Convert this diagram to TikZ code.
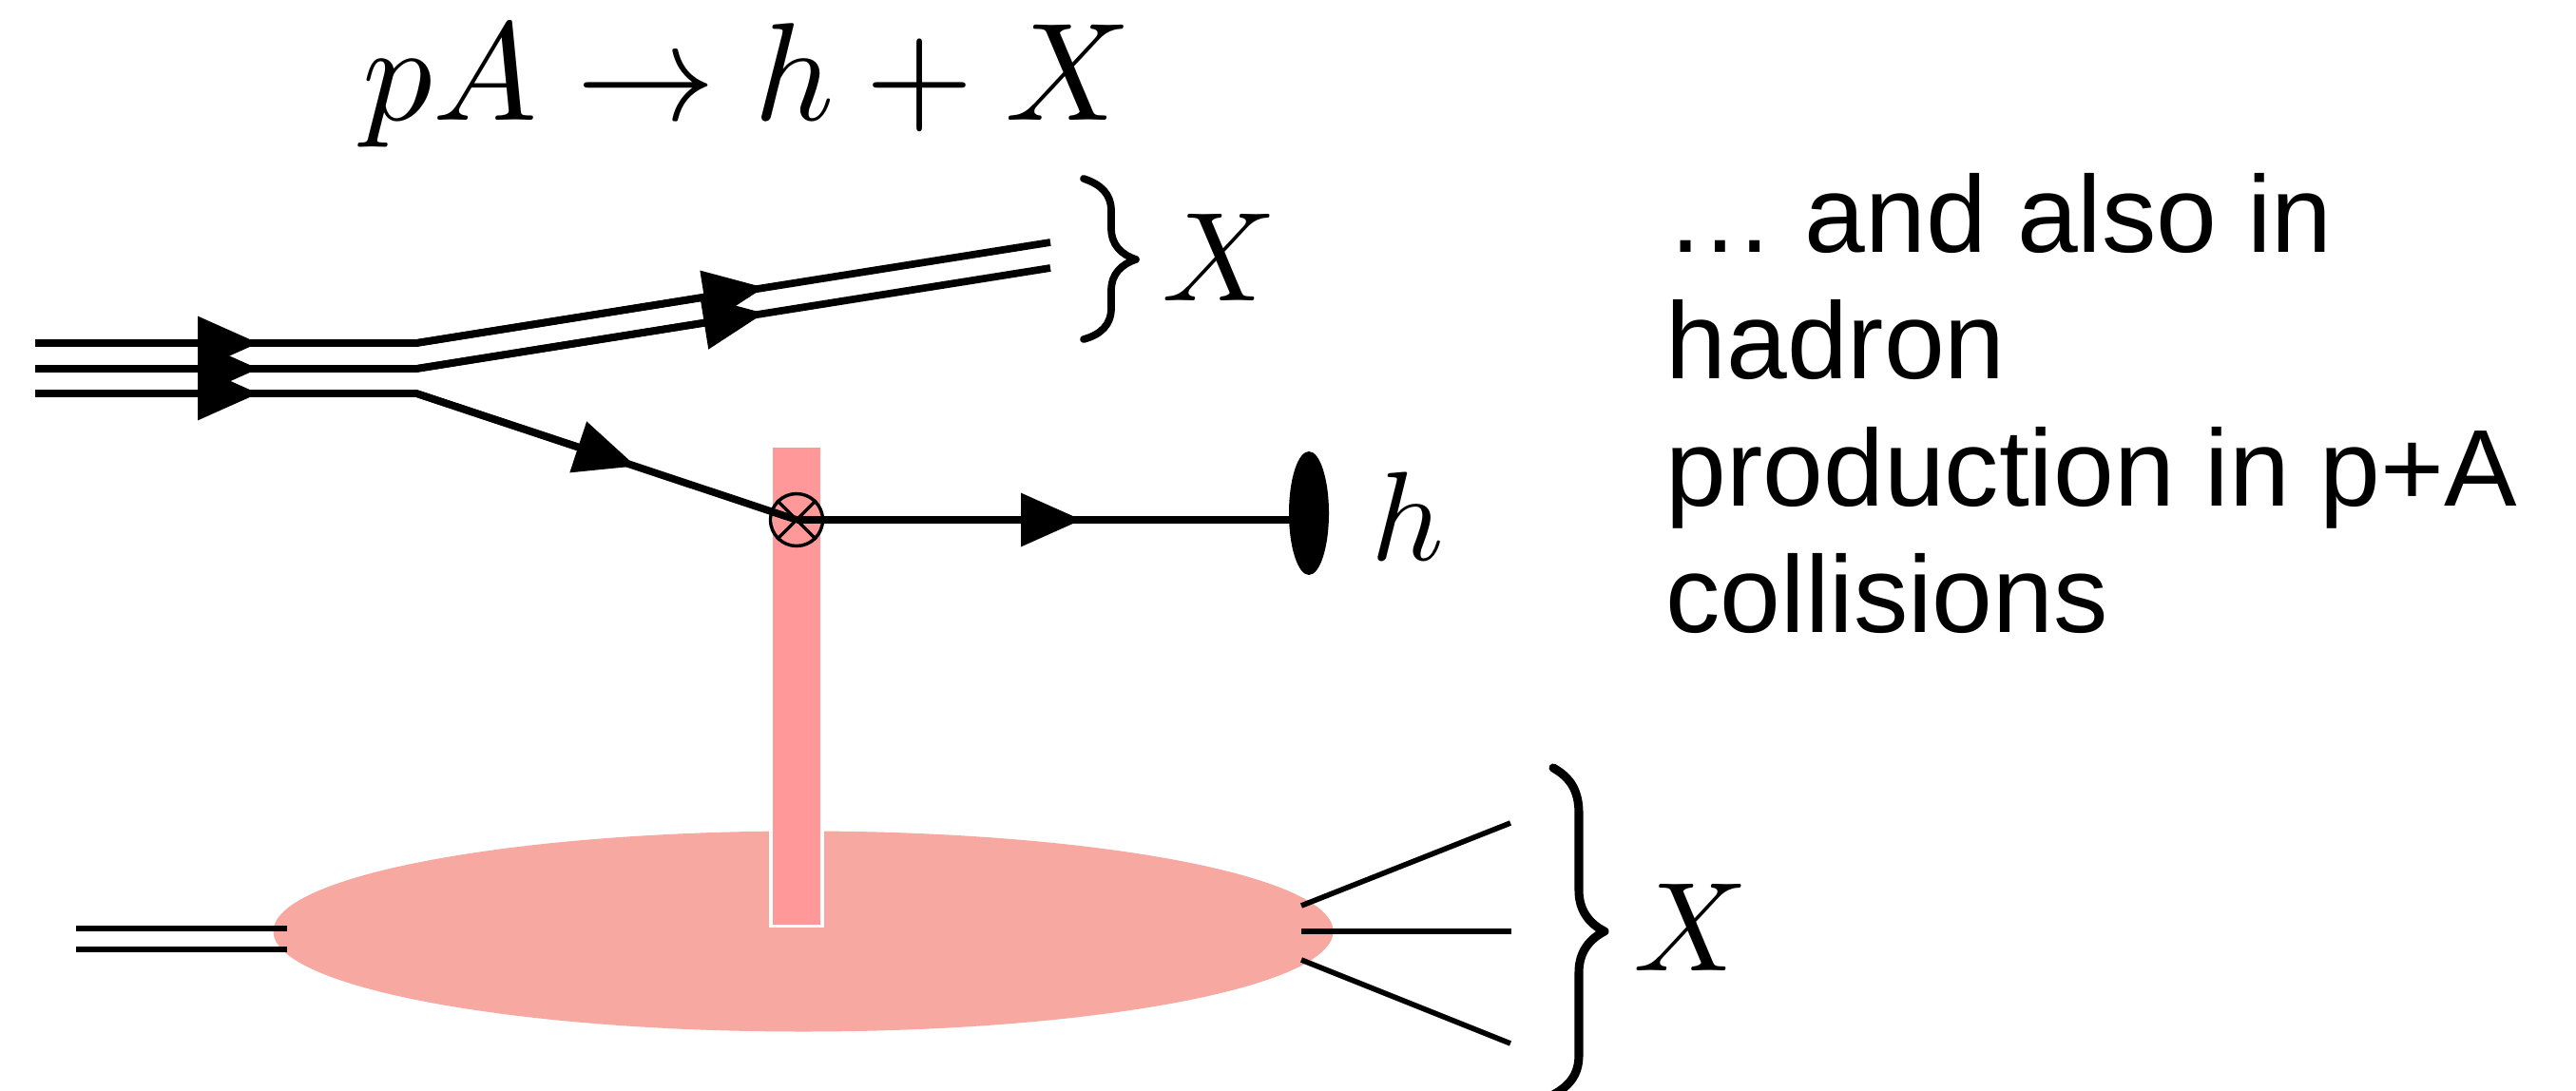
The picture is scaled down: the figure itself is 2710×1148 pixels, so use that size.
\documentclass[tikz,border=0pt]{standalone}
\usepackage{amsmath}
\usepackage{fontspec}
\setmainfont{Liberation Sans}
\usetikzlibrary{arrows.meta,shapes.geometric}
\definecolor{blobred}{HTML}{F7A8A0}
\definecolor{barred}{HTML}{FF9999}
\tikzset{
  x=0.375pt,y=-0.375pt,
  thick line/.style={line width=2.9pt,line cap=butt,line join=miter,black},
  thin line/.style={line width=2.1pt,line cap=butt,black},
  tipped/.style={thick line,-{Triangle[length=24pt,width=20.5pt]}},
  brace line/.style={line width=2.9pt,line cap=round,line join=round,black},
  big brace/.style={line width=3.4pt,line cap=round,line join=round,black},
  mathlabel/.style={inner sep=0pt,scale=5},
}
\begin{document}
\begin{tikzpicture}
\useasboundingbox (0,0) rectangle (2710,1148);
% coordinates
\coordinate (a1) at (37,361); \coordinate (k1) at (438,361); \coordinate (e1) at (1105,255);
\coordinate (a2) at (37,388); \coordinate (k2) at (438,388); \coordinate (e2) at (1105,282);
\coordinate (a3) at (37,414); \coordinate (k3) at (438,414);
\coordinate (t1) at (272,361); \coordinate (t2) at (272,388); \coordinate (t3) at (272,414);
\coordinate (u1) at (804,302.5); \coordinate (u2) at (804,329.5);
\coordinate (v) at (838,547); \coordinate (w) at (669,490.5); \coordinate (z) at (1138,547);
% blob and bar
\node[ellipse,fill=blobred,minimum width=1115*0.375pt,minimum height=211*0.375pt,inner sep=0pt] (blob) at (845,980) {};
\node[rectangle,draw=white,line width=1.3pt,fill=barred,minimum width=54*0.375pt,minimum height=505*0.375pt,inner sep=0pt] (bar) at (838,722) {};
% target lines
\coordinate (l1) at (80,977); \coordinate (l1e) at (302,977);
\coordinate (l2) at (80,999); \coordinate (l2e) at (302,999);
\draw[thin line] (l1) -- (l1e);
\draw[thin line] (l2) -- (l2e);
\coordinate (r1) at (1369,953); \coordinate (r1e) at (1589,866);
\coordinate (r2) at (1369,980); \coordinate (r2e) at (1590,980);
\coordinate (r3) at (1369,1010); \coordinate (r3e) at (1589,1098);
\draw[thin line] (r1) -- (r1e);
\draw[thin line] (r2) -- (r2e);
\draw[thin line] (r3) -- (r3e);
% proton lines
\draw[thick line] (a1) -- (k1) -- (e1);
\draw[thick line] (a2) -- (k2) -- (e2);
\draw[thick line] (a3) -- (k3) -- (v);
\draw[tipped] (a1) -- (t1);
\draw[tipped] (a2) -- (t2);
\draw[tipped] (a3) -- (t3);
\draw[tipped] (k1) -- (u1);
\draw[tipped] (k2) -- (u2);
\draw[tipped] (k3) -- (w);
% vertex
\node[circle,draw=black,line width=1.3pt,minimum size=55*0.375pt,inner sep=0pt] (cross) at (838,547) {};
\draw[line width=1.3pt] (cross.45) -- (cross.225);
\draw[line width=1.3pt] (cross.135) -- (cross.315);
% hadron
\node[ellipse,fill=black,minimum width=42*0.375pt,minimum height=130*0.375pt,inner sep=0pt] (had) at (1377,540) {};
\draw[thick line] (v) -- (z);
\draw[tipped] (v) -- (z);
\draw[thick line] (z) -- (had.center |- z);
% braces
\draw[brace line] (1140,188) .. controls (1158,194) and (1169,204) .. (1169,222) -- (1169,240) .. controls (1169,258) and (1180,268) .. (1195,273) .. controls (1180,278) and (1169,288) .. (1169,306) -- (1169,324) .. controls (1169,342) and (1158,352) .. (1140,357);
\draw[big brace] (1634,808) .. controls (1652,818) and (1661,832) .. (1661,856) -- (1661,937) .. controls (1661,958) and (1672,972) .. (1688,980) .. controls (1672,988) and (1661,1002) .. (1661,1023) -- (1661,1110) .. controls (1661,1130) and (1652,1142) .. (1634,1152);
% labels
\node[mathlabel,scale=1.1] (title) at (786,90) {$pA\rightarrow h+X$};
\node[mathlabel] (x1) at (1283,271) {$X$};
\node[mathlabel] (x2) at (1779,976) {$X$};
\node[mathlabel] (hl) at (1481,543) {$h$};
\node[anchor=north west,inner sep=0pt,align=left,font=\fontsize{43}{50}\selectfont] (txt) at (1752,182) {… and also in\\hadron\\production in p+A\\collisions};
\end{tikzpicture}
\end{document}
